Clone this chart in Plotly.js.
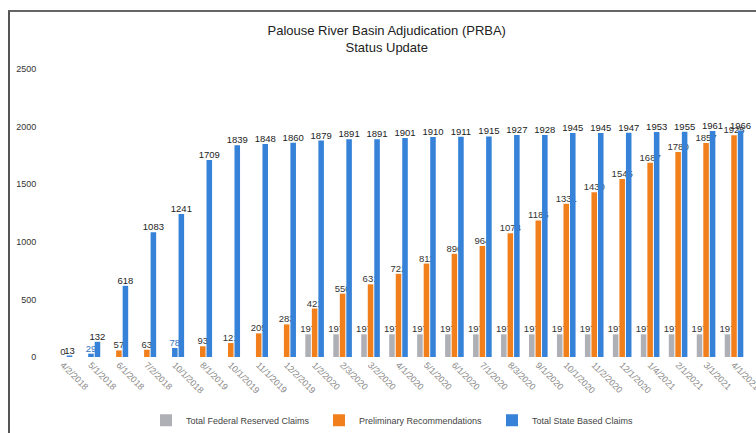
<!DOCTYPE html>
<html>
<head>
<meta charset="utf-8">
<script src="https://cdn.plot.ly/plotly-3.0.1.min.js"></script>
<style>
  html, body { margin: 0; padding: 0; background: #ffffff; }
  #frame { position: absolute; left: 8px; top: 10px; width: 748px; height: 423px;
           border-left: 2px solid #555; border-top: 2px solid #666; box-sizing: border-box; }
  #chart { width: 746px; height: 421px; }
</style>
</head>
<body>
<div id="frame"><div id="chart"></div></div>
<script>
const categories = ["4/2/2018","5/1/2018","6/1/2018","7/2/2018","10/1/2018","8/1/2019","10/1/2019","11/1/2019","12/2/2019","1/2/2020","2/3/2020","3/2/2020","4/1/2020","5/1/2020","6/1/2020","7/1/2020","8/3/2020","9/1/2020","10/1/2020","11/2/2020","12/1/2020","1/4/2021","2/1/2021","3/1/2021","4/1/2021"];
const federalClaims = [null,null,null,null,null,null,null,null,null,197,197,197,197,197,197,197,197,197,197,197,197,197,197,197,197];
const preliminaryRecs = [0,29,57,63,78,93,121,205,283,421,550,631,722,811,896,964,1074,1185,1331,1430,1545,1687,1780,1857,1925];
const stateClaims = [13,132,618,1083,1241,1709,1839,1848,1860,1879,1891,1891,1901,1910,1911,1915,1927,1928,1945,1945,1947,1953,1955,1961,1966];
const yTicks = [0,500,1000,1500,2000,2500];

const GRAY = '#aeb0b6', ORANGE = '#f07f1c', BLUE = '#3582d8';
const prelimColors = preliminaryRecs.map((v, i) => (i === 1 || i === 4) ? BLUE : ORANGE);
const prelimTextColors = preliminaryRecs.map((v, i) => (i === 1 || i === 4) ? '#2f6fb8' : '#333');
const labelFont = {family: 'Liberation Sans, Arial, sans-serif', size: 9.5, color: '#222'};

const traces = [
  {type: 'bar', name: 'Total Federal Reserved Claims', x: categories, y: federalClaims,
   marker: {color: GRAY}, text: federalClaims.map(v => v == null ? '' : String(v)),
   textposition: 'outside', constraintext: 'none', cliponaxis: false,
   textfont: Object.assign({}, labelFont, {color: '#333'}), hoverinfo: 'x+y'},
  {type: 'bar', name: 'Preliminary Recommendations', x: categories, y: preliminaryRecs,
   marker: {color: prelimColors}, text: preliminaryRecs.map(String),
   textposition: 'outside', constraintext: 'none', cliponaxis: false,
   textfont: Object.assign({}, labelFont, {color: prelimTextColors}), hoverinfo: 'x+y'},
  {type: 'bar', name: 'Total State Based Claims', x: categories, y: stateClaims,
   marker: {color: BLUE}, text: stateClaims.map(String),
   textposition: 'outside', constraintext: 'none', cliponaxis: false,
   textfont: labelFont, hoverinfo: 'x+y'}
];

const layout = {
  width: 746, height: 421,
  margin: {l: 39, r: 8, t: 57, b: 76},
  paper_bgcolor: '#ffffff', plot_bgcolor: '#ffffff',
  font: {family: 'Liberation Sans, Arial, sans-serif', color: '#333'},
  title: {text: 'Palouse River Basin Adjudication (PRBA)<br>Status Update',
          font: {size: 13, color: '#222', family: 'Liberation Sans, Arial, sans-serif'},
          x: 0.505, xanchor: 'center', yref: 'container', y: 0.945, yanchor: 'middle'},
  barmode: 'group', bargap: 0.3, bargroupgap: 0.15,
  xaxis: {type: 'category', tickangle: 45, tickfont: {size: 9, color: '#888'},
          showgrid: false, zeroline: false, showline: false, ticks: '',
          range: [-0.5, categories.length - 0.5]},
  yaxis: {range: [0, 2500], tickvals: yTicks, ticktext: yTicks.map(String),
          tickfont: {size: 9, color: '#333'}, showgrid: false, zeroline: false,
          showline: false, ticks: 'outside', ticklen: 10, tickcolor: 'rgba(0,0,0,0)'},
  showlegend: true,
  legend: {orientation: 'h', x: 0.51, xanchor: 'center', yref: 'container', y: 0.03, yanchor: 'middle',
           font: {size: 9, color: '#444'}, itemwidth: 30, entrywidth: 128, traceorder: 'normal'}
};

Plotly.newPlot('chart', traces, layout, {displayModeBar: false, staticPlot: true});
</script>
</body>
</html>
